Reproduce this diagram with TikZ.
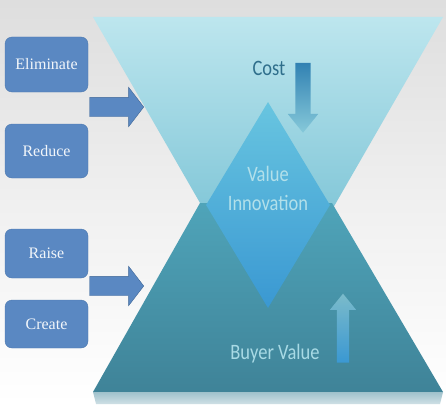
\documentclass[tikz,border=0pt]{standalone}
\usepackage{fontspec}
\setmainfont{Liberation Serif}
\newfontfamily\boxfont{Liberation Serif}
\newfontfamily\slidefont{Carlito}
\usetikzlibrary{shapes.geometric, shapes.arrows}

\definecolor{boxblue}{HTML}{5A88C2}
\definecolor{boxedge}{HTML}{4C78AE}
\definecolor{arrowedge}{HTML}{3F6797}
\definecolor{topcyan}{HTML}{BDE6EE}
\definecolor{midcyan}{HTML}{62B6CC}
\definecolor{tealtop}{HTML}{4FA4B9}
\definecolor{tealbot}{HTML}{3F8398}
\definecolor{innovtop}{HTML}{68C5E0}
\definecolor{innovbot}{HTML}{3A98D2}
\definecolor{costtext}{HTML}{2F6F8C}
\definecolor{palelabel}{HTML}{B2E0EA}

\tikzstyle{action} = [rounded corners=7pt, fill=boxblue, draw=boxedge, text=white!92!boxblue,
  minimum width=83pt, inner sep=0pt, font=\boxfont\fontsize{16}{18}\selectfont]

% narrow the sans labels a little
\newcommand{\narrow}[1]{\scalebox{0.84}[1]{#1}}

\begin{document}
\begin{tikzpicture}[
  x=1pt, y=-1pt,
  push/.style={single arrow, draw=arrowedge, fill=boxblue, inner xsep=0pt, inner ysep=9.5pt,
    minimum height=54pt, single arrow head extend=10pt, single arrow tip angle=105},
  trend/.style={single arrow, inner ysep=0pt, single arrow tip angle=78},
  word/.style={font=\slidefont\fontsize{22}{29}\selectfont, align=center, inner sep=0pt}
]

% page background
\shade[top color=black!13, bottom color=white, middle color=black!6]
  (0,0) rectangle (446,404);
\useasboundingbox (0,0) rectangle (446,404);

% hourglass: upper triangle, lower part and the reflection under it
\shade[top color=topcyan, bottom color=midcyan] (93,17) -- (443,17) -- (268,321) -- cycle;
\shade[top color=tealtop, bottom color=tealbot] (200,203) -- (332,203) -- (443,392) -- (93,392) -- cycle;
\shade[top color=tealbot!50!white, bottom color=tealbot!25!white] (93,392) -- (443,392) -- (440,404) -- (96,404) -- cycle;

% overlap
\node[diamond, minimum width=124pt, minimum height=206pt, inner sep=0pt,
  top color=innovtop, bottom color=innovbot] (innov) at (268,205) {};
\node[word, text=palelabel] (innovtext) at (268,188) {\narrow{Value}\\\narrow{Innovation}};

\node[word, text=costtext] (cost) at (269,68) {\narrow{Cost}};
\node[trend, shape border rotate=270, inner xsep=7.5pt, minimum height=70pt,
  single arrow head extend=7.5pt, top color=innovbot!85!black, bottom color=midcyan!60!topcyan] (costarrow) at (303,93) {};

\node[word, text=palelabel!90!tealtop] (buyer) at (275,354) {\narrow{Buyer Value}};
\node[trend, shape border rotate=90, inner xsep=6pt, minimum height=69pt,
  single arrow head extend=7pt, top color=tealtop!75!white, bottom color=innovbot] (buyerarrow) at (343,332) {};

% four actions
\node[action, minimum height=55pt] (elim) at (46.5,64.5) {Eliminate};
\node[action, minimum height=54pt] (reduce) at (46.5,151) {Reduce};
\node[action, minimum height=49pt] (raise) at (46.5,253.5) {Raise};
\node[action, minimum height=48pt] (create) at (46.5,324) {Create};

\node[push] (cutarrow) at (113,107) {};
\node[push] (addarrow) at (113,286) {};

\end{tikzpicture}
\end{document}
